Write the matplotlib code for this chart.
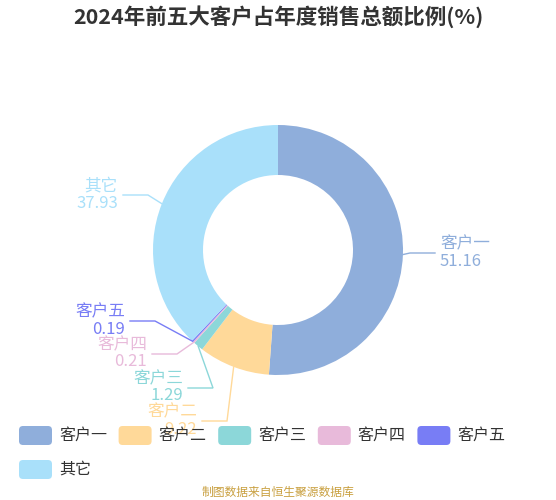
import matplotlib.pyplot as plt
from matplotlib.patches import FancyBboxPatch
import numpy as np

plt.rcParams['font.family'] = ['Noto Sans CJK SC', 'DejaVu Sans']

# data
names = ['客户一', '客户二', '客户三', '客户四', '客户五', '其它']
values = [51.16, 9.22, 1.29, 0.21, 0.19, 37.93]
colors = ['#8FAEDB', '#FFD999', '#8CD7D9', '#E8BADA', '#787DF5', '#A9E0FA']

# label layout in screen pixels (y from top): knee point of label line,
# direction of horizontal tail (+1 right, -1 left)
knees = [(410, 253), (227, 421), (213, 388), (177, 354), (155, 321), (148, 195)]
sides = [1, -1, -1, -1, -1, -1]
tail = 25
gap = 5

W, H = 556, 500
cx, cy = 278, 250
R, r_in = 125, 75

fig = plt.figure(figsize=(W / 100, H / 100), dpi=100)
ax = fig.add_axes([0, 0, 1, 1])


def Y(py):
    return H - py


wedges, _ = ax.pie(values, colors=colors, startangle=90, counterclock=False,
                   center=(cx, Y(cy)), radius=R,
                   wedgeprops=dict(width=R - r_in, linewidth=0))
ax.set_xlim(0, W)
ax.set_ylim(0, H)
ax.axis('off')

for w, name, val, col, (kx, ky), s in zip(wedges, names, values, colors, knees, sides):
    mid = np.deg2rad((w.theta1 + w.theta2) / 2)
    ex = cx + R * np.cos(mid)
    ey = Y(cy) + R * np.sin(mid)
    endx = kx + s * tail
    ax.plot([ex, kx, endx], [ey, Y(ky), Y(ky)], color=col, lw=1, solid_joinstyle='miter')
    tx = endx + s * gap
    ha = 'left' if s > 0 else 'right'
    ax.text(tx, Y(ky - 9), name, color=col, fontsize=12, ha=ha, va='center')
    ax.text(tx, Y(ky + 8), f'{val:.2f}', color=col, fontsize=12, ha=ha, va='center')

# title
ax.text(W / 2, Y(17), '2024年前五大客户占年度销售总额比例(%)', fontsize=15.5,
        fontweight='bold', color='#333333', ha='center', va='center')

# legend
for i, (name, col) in enumerate(zip(names, colors)):
    row, c = divmod(i, 5)
    x0 = 19 + c * 99.6
    yc = 435.5 + row * 34
    ax.add_patch(FancyBboxPatch((x0, Y(yc) - 9.5), 33, 19,
                                boxstyle='round,pad=0,rounding_size=4',
                                fc=col, ec='none'))
    ax.text(x0 + 40, Y(yc), name, fontsize=11.5, color='#333333', ha='left', va='center')

ax.text(W / 2, Y(492), '制图数据来自恒生聚源数据库', fontsize=8.5, color='#C9A040',
        ha='center', va='center')

fig.savefig('out.png', dpi=100)
